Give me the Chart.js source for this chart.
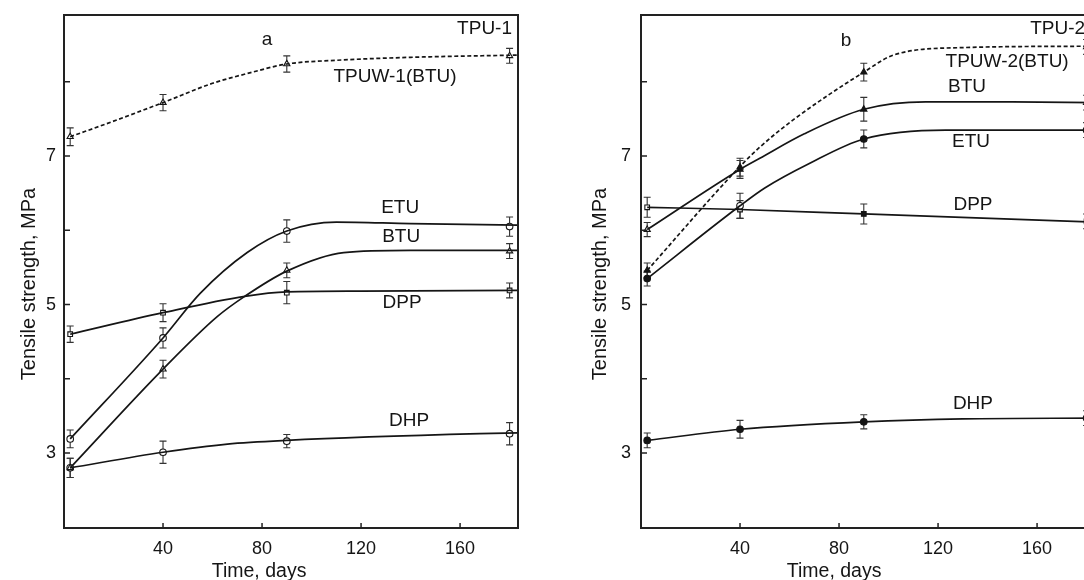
<!DOCTYPE html>
<html><head><meta charset="utf-8">
<script src="https://cdn.jsdelivr.net/npm/chart.js@4.4.1/dist/chart.umd.min.js"></script>
<style>
html,body{margin:0;padding:0;background:#fff;overflow:hidden;width:1084px;height:580px;position:relative;}
#wa{position:absolute;left:0;top:0;width:540px;height:580px;}
#wb{position:absolute;left:560px;top:0;width:560px;height:580px;}
</style></head><body>
<div id="wa"><canvas id="ca" width="540" height="580"></canvas></div>
<div id="wb"><canvas id="cb" width="560" height="580"></canvas></div>
<script>
// ---------- axes ----------
const xTickValues = [40, 80, 120, 160];
const yTickValues = [3, 4, 5, 6, 7, 8];
const yLabelled = [3, 5, 7];
const xTitle = "Time, days";
const yTitle = "Tensile strength, MPa";

// ---------- panel a : measured points ----------
const daysA = [2.5, 40, 90, 180];
const tpuw1A = [7.26, 7.72, 8.24, 8.35];
const tpuw1AErr = [0.12, 0.11, 0.11, 0.1];
const etuA = [3.19, 4.55, 5.99, 6.05];
const etuAErr = [0.12, 0.135, 0.15, 0.13];
const btuA = [2.80, 4.13, 5.46, 5.72];
const btuAErr = [0.13, 0.12, 0.1, 0.1];
const dppA = [4.60, 4.89, 5.16, 5.19];
const dppAErr = [0.11, 0.12, 0.15, 0.1];
const dhpA = [2.80, 3.01, 3.16, 3.26];
const dhpAErr = [0.13, 0.15, 0.09, 0.15];

// ---------- panel a : fitted curves ----------
const tpuw1CurveDays = [2.5, 20, 40, 60, 75, 90, 110, 140, 183.4];
const tpuw1Curve = [7.26, 7.47, 7.72, 7.98, 8.12, 8.24, 8.29, 8.33, 8.36];
const etuACurveDays = [2.5, 40, 55, 74, 90, 110, 140, 183.4];
const etuACurve = [3.19, 4.55, 5.15, 5.70, 5.99, 6.11, 6.09, 6.07];
const btuACurveDays = [2.5, 40, 62, 73, 90, 113, 140, 183.4];
const btuACurve = [2.80, 4.13, 4.84, 5.11, 5.45, 5.70, 5.73, 5.73];
const dppACurveDays = [2.5, 40, 73, 90, 120, 183.4];
const dppACurve = [4.60, 4.89, 5.11, 5.17, 5.18, 5.19];
const dhpACurveDays = [2.5, 40, 66, 90, 168, 183.4];
const dhpACurve = [2.80, 3.01, 3.12, 3.17, 3.26, 3.27];

// ---------- panel b : measured points ----------
const daysB = [2.5, 40, 90, 180];
const tpuw2B = [5.46, 6.85, 8.13, 8.47];
const tpuw2BErr = [0.1, 0.12, 0.12, 0.1];
const btuB = [6.01, 6.82, 7.63, 7.72];
const btuBErr = [0.095, 0.12, 0.16, 0.1];
const etuB = [5.35, 6.33, 7.23, 7.35];
const etuBErr = [0.1, 0.17, 0.12, 0.1];
const dppB = [6.31, 6.28, 6.22, 6.12];
const dppBErr = [0.135, 0.12, 0.135, 0.1];
const dhpB = [3.17, 3.32, 3.42, 3.47];
const dhpBErr = [0.1, 0.12, 0.095, 0.1];

// ---------- panel b : fitted curves ----------
const tpuw2CurveDays = [2.5, 40, 48, 62, 90, 102, 129, 183.4];
const tpuw2Curve = [5.46, 6.86, 7.12, 7.50, 8.13, 8.36, 8.46, 8.48];
const btuBCurveDays = [2.5, 40, 48, 66, 90, 115, 150, 183.4];
const btuBCurve = [6.01, 6.82, 6.97, 7.30, 7.63, 7.73, 7.73, 7.72];
const etuBCurveDays = [2.5, 40, 50, 68, 90, 123, 183.4];
const etuBCurve = [5.35, 6.33, 6.57, 6.90, 7.23, 7.35, 7.35];
const dppBCurveDays = [2.5, 40, 90, 183.4];
const dppBCurve = [6.31, 6.28, 6.22, 6.11];
const dhpBCurveDays = [2.5, 40, 90, 130, 183.4];
const dhpBCurve = [3.17, 3.32, 3.42, 3.46, 3.47];

// ---------- text labels (text, day, value, align) ----------
const labelsA = [
  ["a", 82.0, 8.56, "center"],
  ["TPU-1", 158.8, 8.72, "left"],
  ["TPUW-1(BTU)", 133.7, 8.065, "center"],
  ["ETU", 135.8, 6.31, "center"],
  ["BTU", 136.2, 5.91, "center"],
  ["DPP", 136.6, 5.03, "center"],
  ["DHP", 139.4, 3.43, "center"]
];
const labelsB = [
  ["b", 82.8, 8.55, "center"],
  ["TPU-2", 157.2, 8.72, "left"],
  ["TPUW-2(BTU)", 147.9, 8.27, "center"],
  ["BTU", 131.7, 7.93, "center"],
  ["ETU", 133.3, 7.19, "center"],
  ["DPP", 134.1, 6.34, "center"],
  ["DHP", 134.1, 3.66, "center"]
];

const INK = '#151515';
const FONT = 'Arial, "Liberation Sans", sans-serif';

function pts(days, vals) { return days.map((d, i) => ({x: d, y: vals[i]})); }
function curve(days, vals, dashed) {
  return {data: pts(days, vals), borderColor: INK, borderWidth: 1.7,
    borderDash: dashed ? [4, 2.5] : [], pointRadius: 0, pointHoverRadius: 0,
    cubicInterpolationMode: 'monotone', fill: false};
}
function marks(days, vals, errs, style, bg, r) {
  return {data: pts(days, vals), showLine: false, errors: errs, pointStyle: style,
    pointRadius: r || 3.3, pointHoverRadius: r || 3.3, pointBackgroundColor: bg,
    pointBorderColor: INK, pointBorderWidth: 1.1, borderColor: INK};
}

const panelPlugin = {
  id: 'panel',
  beforeDatasetsDraw(chart) {
    const ctx = chart.ctx, xs = chart.scales.x, ys = chart.scales.y;
    ctx.save();
    ctx.strokeStyle = '#333'; ctx.lineWidth = 1.1;
    chart.data.datasets.forEach(ds => {
      if (!ds.errors) return;
      ds.data.forEach((p, i) => {
        const e = ds.errors[i];
        const px = xs.getPixelForValue(p.x);
        const t = ys.getPixelForValue(p.y + e), b = ys.getPixelForValue(p.y - e);
        ctx.beginPath();
        ctx.moveTo(px, t); ctx.lineTo(px, b);
        ctx.moveTo(px - 3.5, t); ctx.lineTo(px + 3.5, t);
        ctx.moveTo(px - 3.5, b); ctx.lineTo(px + 3.5, b);
        ctx.stroke();
      });
    });
    ctx.restore();
  },
  afterDraw(chart) {
    const o = chart.options.plugins.panel;
    const ctx = chart.ctx, a = chart.chartArea, xs = chart.scales.x, ys = chart.scales.y;
    ctx.save();
    // frame
    ctx.strokeStyle = '#222'; ctx.lineWidth = 2;
    ctx.strokeRect(a.left, a.top, a.right - a.left, a.bottom - a.top);
    // inward ticks
    ctx.lineWidth = 1.5;
    ctx.beginPath();
    yTickValues.forEach(v => { const y = ys.getPixelForValue(v); ctx.moveTo(a.left, y); ctx.lineTo(a.left + 6, y); });
    xTickValues.forEach(v => { const x = xs.getPixelForValue(v); ctx.moveTo(x, a.bottom); ctx.lineTo(x, a.bottom - 5); });
    ctx.stroke();
    // labels
    ctx.fillStyle = INK;
    ctx.font = '19px ' + FONT;
    ctx.textBaseline = 'middle';
    o.labels.forEach(l => {
      ctx.textAlign = l[3];
      ctx.fillText(l[0], xs.getPixelForValue(l[1]), ys.getPixelForValue(l[2]));
    });
    // axis titles
    ctx.font = '19.5px ' + FONT;
    ctx.textAlign = 'center'; ctx.textBaseline = 'alphabetic';
    ctx.fillText(xTitle, xs.getPixelForValue(o.xTitleDay), 577);
    ctx.font = '20px ' + FONT;
    ctx.translate(o.yTitleX, 284); ctx.rotate(-Math.PI / 2);
    ctx.fillText(yTitle, 0, 0);
    ctx.restore();
  }
};

function zeroPad(s) { s.paddingTop = 0; s.paddingBottom = 0; s.paddingLeft = 0; s.paddingRight = 0; }

function makeChart(id, datasets, labels, leftW, rightPad, tickPad, xTitleDay, yTitleX) {
  return new Chart(document.getElementById(id), {
    type: 'line',
    data: {datasets},
    options: {
      responsive: false, animation: false, events: [],
      layout: {padding: {left: 0, top: 15, right: rightPad, bottom: 0}},
      plugins: {legend: {display: false}, tooltip: {enabled: false},
        panel: {labels, xTitleDay, yTitleX}},
      scales: {
        x: {type: 'linear', min: 0, max: 183.4,
          grid: {display: false, drawTicks: false}, border: {display: false},
          afterBuildTicks: s => { s.ticks = xTickValues.map(v => ({value: v})); },
          afterFit: s => { s.height = 52; zeroPad(s); },
          ticks: {padding: 10, color: INK, font: {family: FONT, size: 18}, maxRotation: 0, autoSkip: false}},
        y: {type: 'linear', min: 1.99, max: 8.9,
          grid: {display: false, drawTicks: false}, border: {display: false},
          afterBuildTicks: s => { s.ticks = yTickValues.map(v => ({value: v})); },
          afterFit: s => { s.width = leftW; zeroPad(s); },
          ticks: {padding: tickPad, color: INK, font: {family: FONT, size: 18}, autoSkip: false,
            callback: v => yLabelled.includes(v) ? String(v) : ''}}
      }
    },
    plugins: [panelPlugin]
  });
}

const W = '#ffffff', K = INK;
makeChart('ca', [
  curve(tpuw1CurveDays, tpuw1Curve, true),
  curve(etuACurveDays, etuACurve),
  curve(btuACurveDays, btuACurve),
  curve(dppACurveDays, dppACurve),
  curve(dhpACurveDays, dhpACurve),
  marks(daysA, tpuw1A, tpuw1AErr, 'triangle', W, 3.6),
  marks(daysA, etuA, etuAErr, 'circle', W),
  marks(daysA, btuA, btuAErr, 'triangle', W, 3.6),
  marks(daysA, dppA, dppAErr, 'rect', W),
  marks(daysA, dhpA, dhpAErr, 'circle', W)
], labelsA, 64, 22, 8, 78.8, 35);

makeChart('cb', [
  curve(tpuw2CurveDays, tpuw2Curve, true),
  curve(btuBCurveDays, btuBCurve),
  curve(etuBCurveDays, etuBCurve),
  curve(dppBCurveDays, dppBCurve),
  curve(dhpBCurveDays, dhpBCurve),
  marks(daysB, tpuw2B, tpuw2BErr, 'triangle', K, 3.6),
  marks(daysB, btuB, btuBErr, 'triangle', [W, K, K, K], 3.6),
  marks(daysB, etuB, etuBErr, 'circle', [K, W, K, K]),
  marks(daysB, dppB, dppBErr, 'rect', [W, W, K, K]),
  marks(daysB, dhpB, dhpBErr, 'circle', K)
], labelsB, 81, 25, 10, 78.0, 45.5);
</script>
</body></html>
